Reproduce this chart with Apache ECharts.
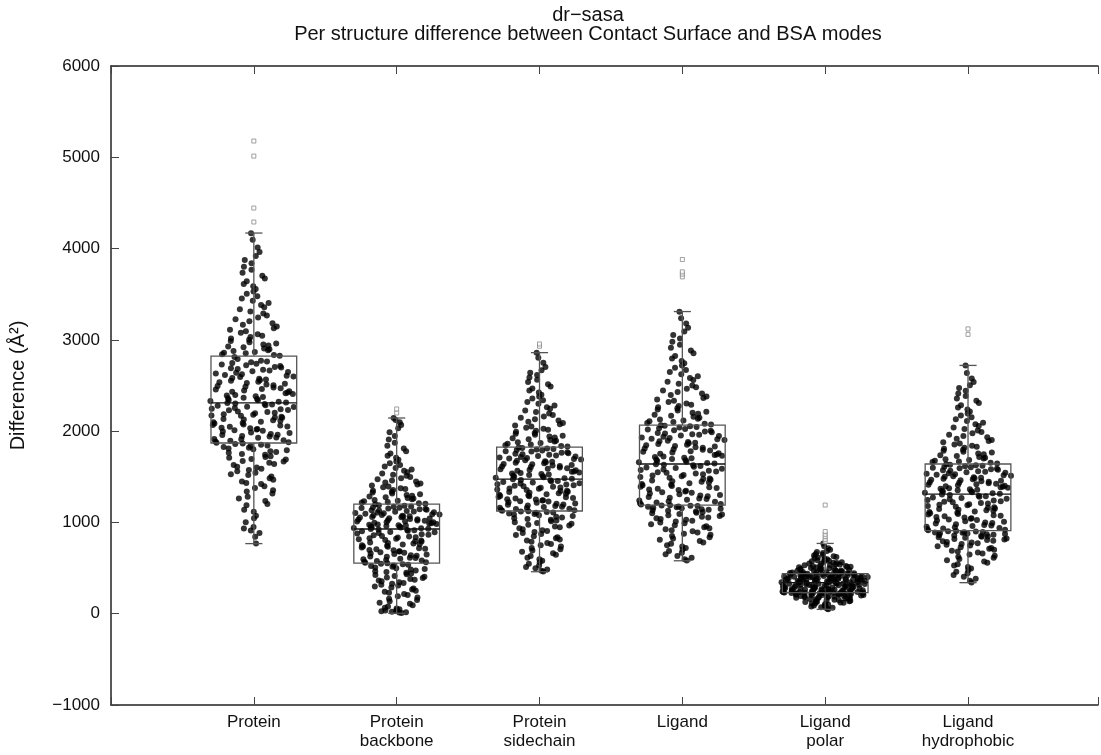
<!DOCTYPE html>
<html>
<head>
<meta charset="utf-8">
<script src="https://cdn.jsdelivr.net/npm/echarts@6/dist/echarts.min.js"></script>
<style>html,body{margin:0;padding:0;background:#fff}#c{width:1101px;height:755px}</style>
</head>
<body>
<div id="c"></div>
<script>
// ---- data ----
const categories = ['Protein', 'Protein\nbackbone', 'Protein\nsidechain', 'Ligand', 'Ligand\npolar', 'Ligand\nhydrophobic'];
const yTicks = [-1000, 0, 1000, 2000, 3000, 4000, 5000, 6000];

// box statistics: [lower whisker, Q1, median, Q3, upper whisker]
const boxProtein     = [768, 1870, 2310, 2822, 4170];
const boxBackbone    = [5, 555, 928, 1200, 2144];
const boxSidechain   = [460, 1125, 1475, 1826, 2860];
const boxLigand      = [580, 1190, 1640, 2067, 3310];
const boxPolar       = [48, 230, 340, 440, 770];
const boxHydrophobic = [340, 910, 1310, 1640, 2720];

// outliers
const outProtein     = [4291, 4444, 5013, 5178];
const outBackbone    = [2199, 2243];
const outSidechain   = [2930, 2955];
const outLigand      = [3690, 3720, 3745, 3880];
const outPolar       = [790, 815, 845, 870, 900, 1190];
const outHydrophobic = [3060, 3120];

// per-structure values
const ptsProtein = [768,842,885,912,934,951,1003,1046,1072,1118,1139,1187,1203,1236,1262,1281,1317,1339,1352,1378,1395,1421,1433,1447,1468,1483,1502,1519,1527,1544,1561,1573,1589,1602,1611,1628,1641,1653,1667,1672,1688,1696,1709,1718,1726,1741,1749,1762,1771,1779,1792,1801,1809,1818,1827,1836,1844,1851,1859,1866,
1873,1878,1886,1894,1899,1911,1915,1927,1931,1942,1946,1957,1961,1969,1981,1984,1996,2003,2011,2017,2024,2033,2036,2047,2051,2062,2066,2074,2085,2089,2098,2104,2113,2119,2127,2133,2146,2149,2157,2168,2171,2179,2186,2197,2201,2209,2216,2228,2231,2239,2246,2253,2264,2268,2277,2283,2291,2296,2303,2307,
2314,2321,2329,2338,2342,2351,2359,2366,2374,2383,2391,2397,2408,2414,2423,2431,2437,2446,2455,2462,2471,2479,2486,2494,2503,2511,2518,2527,2536,2542,2551,2558,2567,2574,2583,2592,2598,2607,2616,2622,2631,2639,2648,2656,2663,2672,2681,2688,2697,2704,2713,2721,2729,2738,2746,2755,2764,2772,2789,2813,
2826,2834,2841,2852,2858,2867,2879,2886,2897,2905,2918,2926,2939,2948,2961,2973,2988,3002,3015,3031,3046,3062,3078,3093,3112,3128,3147,3166,3183,3204,3226,3245,3268,3289,3312,3336,3358,3381,3403,3428,3452,3479,3504,3531,3558,3587,3613,3642,3671,3703,3736,3768,3802,3839,3876,3918,3962,4013,4096,4168];

const ptsBackbone = [8,12,17,21,26,31,35,42,48,57,66,79,92,108,121,137,149,163,178,191,204,217,229,241,252,264,276,287,298,309,318,327,336,346,355,364,372,381,390,398,406,414,423,431,440,448,457,466,474,483,491,499,507,514,522,529,536,542,548,553,
558,564,569,578,584,589,597,602,610,614,623,627,635,640,648,655,659,667,672,681,685,694,697,706,712,716,725,733,736,744,749,758,762,770,776,781,790,794,802,807,815,821,826,835,839,847,851,860,866,871,879,883,892,896,904,908,915,918,922,927,
930,936,938,945,947,953,955,962,965,968,974,977,983,987,990,996,1001,1003,1009,1012,1018,1022,1025,1031,1035,1038,1044,1046,1053,1057,1059,1066,1068,1074,1079,1081,1087,1090,1096,1101,1103,1109,1111,1118,1120,1126,1131,1133,1139,1144,1146,1152,1157,1161,1164,1171,1175,1184,1189,1198,
1204,1211,1218,1224,1231,1238,1246,1253,1261,1268,1276,1284,1293,1301,1310,1318,1327,1336,1346,1355,1365,1374,1384,1394,1404,1415,1426,1437,1448,1460,1472,1484,1497,1510,1523,1537,1551,1566,1581,1597,1613,1630,1648,1667,1687,1708,1731,1755,1781,1809,1839,1872,1908,1947,1989,2031,2068,2097,2121,2143];

const ptsSidechain = [462,471,484,498,512,529,547,563,581,598,614,631,647,662,678,693,707,721,736,749,763,776,789,801,814,826,838,849,861,872,883,894,905,915,926,936,946,956,966,975,985,994,1003,1012,1021,1030,1038,1047,1055,1063,1071,1079,1086,1093,1099,1105,1110,1115,1119,1123,
1127,1134,1138,1146,1150,1158,1162,1170,1173,1181,1185,1193,1197,1205,1208,1216,1220,1228,1232,1240,1243,1251,1255,1263,1267,1275,1278,1286,1290,1298,1302,1310,1313,1321,1325,1333,1337,1345,1348,1356,1360,1368,1372,1380,1383,1391,1395,1403,1407,1415,1418,1426,1430,1438,1442,1450,1454,1462,1466,1473,
1478,1484,1489,1496,1501,1507,1513,1519,1524,1531,1536,1542,1548,1554,1559,1566,1571,1577,1583,1589,1594,1601,1606,1612,1618,1624,1629,1636,1641,1647,1653,1659,1664,1671,1676,1682,1688,1694,1699,1706,1711,1717,1723,1729,1734,1741,1746,1752,1758,1764,1769,1776,1781,1787,1793,1799,1804,1811,1816,1822,
1831,1838,1846,1853,1861,1869,1877,1886,1894,1903,1912,1921,1931,1940,1950,1960,1971,1981,1992,2003,2015,2026,2038,2051,2063,2076,2089,2103,2117,2131,2146,2161,2177,2193,2209,2226,2244,2262,2280,2299,2318,2338,2358,2379,2400,2422,2444,2467,2490,2514,2538,2563,2588,2614,2640,2667,2702,2748,2803,2858];

const ptsLigand = [582,597,614,633,651,668,686,703,719,735,751,766,781,796,810,824,838,851,864,877,890,902,914,926,937,948,959,970,980,990,1000,1010,1019,1028,1037,1046,1054,1062,1070,1078,1086,1093,1100,1107,1114,1121,1127,1133,1139,1145,1151,1156,1161,1166,1171,1175,1179,1183,1186,1189,
1196,1203,1211,1218,1226,1233,1241,1248,1256,1263,1271,1278,1286,1294,1301,1309,1316,1324,1331,1339,1346,1354,1362,1369,1377,1384,1392,1399,1407,1414,1422,1429,1437,1445,1452,1460,1467,1475,1482,1490,1497,1505,1513,1520,1528,1535,1543,1550,1558,1565,1573,1581,1588,1596,1603,1611,1618,1626,1632,1637,
1645,1652,1659,1666,1673,1680,1688,1695,1702,1709,1716,1723,1731,1738,1745,1752,1759,1766,1774,1781,1788,1795,1802,1809,1817,1824,1831,1838,1845,1852,1860,1867,1874,1881,1888,1895,1903,1910,1917,1924,1931,1938,1946,1953,1960,1967,1974,1981,1989,1996,2003,2010,2017,2024,2032,2039,2046,2053,2059,2064,
2073,2081,2090,2099,2108,2117,2127,2137,2147,2157,2168,2179,2190,2201,2213,2225,2237,2250,2263,2276,2290,2304,2318,2333,2348,2363,2379,2395,2412,2429,2446,2464,2482,2501,2520,2540,2560,2581,2602,2624,2647,2670,2694,2718,2743,2769,2796,2824,2853,2883,2914,2946,2980,3015,3052,3091,3133,3180,3237,3308];

const ptsPolar = [48,57,66,72,79,85,90,96,101,106,111,115,120,124,128,132,136,140,143,147,150,153,157,160,163,166,169,172,175,177,180,183,185,188,190,193,195,197,200,202,204,206,208,210,212,214,215,217,219,220,221,223,224,225,226,227,228,229,229,230,
232,233,235,237,239,240,242,244,246,248,249,251,253,255,257,258,260,262,264,266,267,269,271,273,275,276,278,280,282,284,285,287,289,291,293,294,296,298,300,302,303,305,307,309,311,312,314,316,318,320,321,323,325,327,329,330,332,334,336,338,
341,343,345,346,348,350,351,353,355,356,358,360,361,363,365,366,368,370,371,373,375,376,378,380,381,383,385,386,388,390,391,393,395,396,398,400,401,403,405,406,408,410,411,413,415,416,418,420,421,423,425,426,428,430,431,433,435,436,438,439,
442,444,447,449,452,454,457,459,462,465,467,470,473,476,478,481,484,487,490,493,496,499,502,505,509,512,515,519,522,526,530,534,538,542,546,550,555,559,564,569,574,579,585,590,596,602,609,615,622,630,638,646,655,665,676,688,701,716,738,768];

const ptsHydrophobic = [342,361,383,404,424,443,461,479,496,512,528,543,558,572,586,599,612,624,636,648,659,670,681,691,701,711,720,729,738,747,755,763,771,779,786,793,800,807,813,819,825,831,837,842,847,852,857,862,866,870,874,878,882,886,889,893,896,900,903,907,
913,920,927,933,940,947,953,960,967,973,980,987,993,1000,1007,1013,1020,1027,1033,1040,1047,1053,1060,1067,1073,1080,1087,1093,1100,1107,1113,1120,1127,1133,1140,1147,1153,1160,1167,1173,1180,1187,1193,1200,1207,1213,1220,1227,1233,1240,1247,1253,1260,1267,1273,1280,1287,1293,1300,1306,
1314,1319,1325,1330,1336,1341,1347,1352,1358,1363,1369,1374,1380,1385,1391,1396,1402,1407,1413,1418,1424,1429,1435,1440,1446,1451,1457,1462,1468,1473,1479,1484,1490,1495,1501,1506,1512,1517,1523,1528,1534,1539,1545,1550,1556,1561,1567,1572,1578,1583,1589,1594,1600,1605,1611,1616,1622,1627,1632,1637,
1646,1653,1661,1668,1676,1684,1692,1701,1709,1718,1727,1736,1746,1755,1765,1775,1786,1796,1807,1818,1830,1841,1853,1866,1878,1891,1904,1918,1932,1946,1961,1976,1991,2007,2023,2040,2057,2075,2093,2112,2131,2151,2171,2192,2214,2236,2259,2283,2307,2332,2358,2385,2413,2442,2472,2504,2538,2578,2637,2718];

const boxes = [boxProtein, boxBackbone, boxSidechain, boxLigand, boxPolar, boxHydrophobic];
const outliers = [outProtein, outBackbone, outSidechain, outLigand, outPolar, outHydrophobic];
const points = [ptsProtein, ptsBackbone, ptsSidechain, ptsLigand, ptsPolar, ptsHydrophobic];

// ---- layout helpers: quasirandom (density-scaled low-discrepancy) horizontal spread ----
function vdc(n, base) { let v = 0, d = 1; while (n > 0) { d *= base; v += (n % base) / d; n = Math.floor(n / base); } return v; }
function spread(vals, halfWidth) {
  const s = vals.slice().sort((a, b) => a - b);
  const n = s.length;
  const mean = s.reduce((a, b) => a + b, 0) / n;
  const sd = Math.sqrt(s.reduce((a, b) => a + (b - mean) * (b - mean), 0) / (n - 1));
  const iqr = s[Math.floor(n * 0.75)] - s[Math.floor(n * 0.25)];
  const bw = 0.9 * Math.min(sd, iqr / 1.34) * Math.pow(n, -0.2);
  const dens = s.map(y => s.reduce((acc, yi) => acc + Math.exp(-0.5 * ((y - yi) / bw) ** 2), 0));
  const mx = Math.max(...dens);
  // mix two low-discrepancy sequences so the pattern does not form a lattice
  return s.map((y, i) => {
    const u = (vdc(i + 1, 2) + vdc(i + 1, 3) * 0.5) % 1;
    return [(u - 0.5) * 2 * halfWidth * Math.pow(dens[i] / mx, 0.85), y];
  });
}

const scatterData = [];
points.forEach((vals, gi) => {
  spread(vals, 0.31).forEach(([dx, y]) => scatterData.push([gi + 1 + dx, y]));
});
const outlierData = [];
outliers.forEach((vals, gi) => vals.forEach(y => outlierData.push([gi + 1, y])));
const boxData = boxes.map((b, gi) => [gi + 1].concat(b));

const FONT = 'Liberation Sans';
const axisCommon = {
  type: 'value', min: 0, max: 6.91, interval: 1,
  axisLine: { show: true, onZero: false, lineStyle: { color: '#222', width: 1.5 } },
  axisTick: { show: true, inside: true, length: 8, lineStyle: { color: '#444' } },
  splitLine: { show: false }
};
const chart = echarts.init(document.getElementById('c'), null, { renderer: 'canvas' });
chart.setOption({
  animation: false,
  backgroundColor: '#fff',
  textStyle: { fontFamily: FONT, color: '#000' },
  title: {
    text: 'dr\u2212sasa\nPer structure difference between Contact Surface and BSA modes',
    left: 583, top: 1, textAlign: 'center',
    textStyle: { fontFamily: FONT, fontSize: 20, fontWeight: 'normal', color: '#111', lineHeight: 19 }
  },
  grid: { left: 111, right: 0, top: 66, bottom: 50, containLabel: false },
  xAxis: [Object.assign({}, axisCommon, {
    position: 'bottom',
    axisLabel: { fontFamily: FONT, fontSize: 17, color: '#111', lineHeight: 19, margin: 8,
      formatter: v => (v >= 1 && v <= 6) ? categories[v - 1] : '' }
  }), Object.assign({}, axisCommon, {
    position: 'top', axisLabel: { show: false }
  })],
  yAxis: {
    type: 'value', min: yTicks[0], max: yTicks[yTicks.length - 1], interval: 1000,
    name: 'Difference (Å²)', nameLocation: 'middle', nameGap: 83, nameRotate: 90,
    nameTextStyle: { fontFamily: FONT, fontSize: 20, color: '#111' },
    axisLine: { show: true, onZero: false, lineStyle: { color: '#222', width: 1.5 } },
    axisTick: { show: true, inside: true, length: 8, lineStyle: { color: '#444' } },
    splitLine: { show: false },
    axisLabel: { fontFamily: FONT, fontSize: 17, color: '#111', margin: 11,
      formatter: v => (v < 0 ? '\u2212' + Math.abs(v) : String(v)) }
  },
  series: [{
    type: 'scatter', data: scatterData, symbol: 'circle', symbolSize: 6,
    itemStyle: { color: '#000' }, z: 2, silent: true
  }, {
    type: 'custom', data: boxData, z: 3, silent: true,
    renderItem: function (params, api) {
      const x = api.value(0);
      const hw = api.size([0.3, 0])[0];
      const cw = api.size([0.06, 0])[0];
      const pMin = api.coord([x, api.value(1)]);
      const pQ1 = api.coord([x, api.value(2)]);
      const pMed = api.coord([x, api.value(3)]);
      const pQ3 = api.coord([x, api.value(4)]);
      const pMax = api.coord([x, api.value(5)]);
      const cx = pQ1[0];
      const st = { stroke: '#555', lineWidth: 1.3, fill: null };
      return {
        type: 'group', children: [
          { type: 'rect', shape: { x: cx - hw, y: pQ3[1], width: 2 * hw, height: pQ1[1] - pQ3[1] }, style: st },
          { type: 'line', shape: { x1: cx - hw, y1: pMed[1], x2: cx + hw, y2: pMed[1] }, style: { stroke: '#111', lineWidth: 1.3 } },
          { type: 'line', shape: { x1: cx, y1: pQ3[1], x2: cx, y2: pMax[1] }, style: st },
          { type: 'line', shape: { x1: cx, y1: pQ1[1], x2: cx, y2: pMin[1] }, style: st },
          { type: 'line', shape: { x1: cx - cw, y1: pMax[1], x2: cx + cw, y2: pMax[1] }, style: st },
          { type: 'line', shape: { x1: cx - cw, y1: pMin[1], x2: cx + cw, y2: pMin[1] }, style: st }
        ]
      };
    }
  }, {
    type: 'scatter', data: outlierData, symbol: 'rect', symbolSize: 4,
    itemStyle: { color: '#fff', borderColor: '#888', borderWidth: 1 }, z: 4, silent: true
  }]
});
</script>
</body>
</html>
